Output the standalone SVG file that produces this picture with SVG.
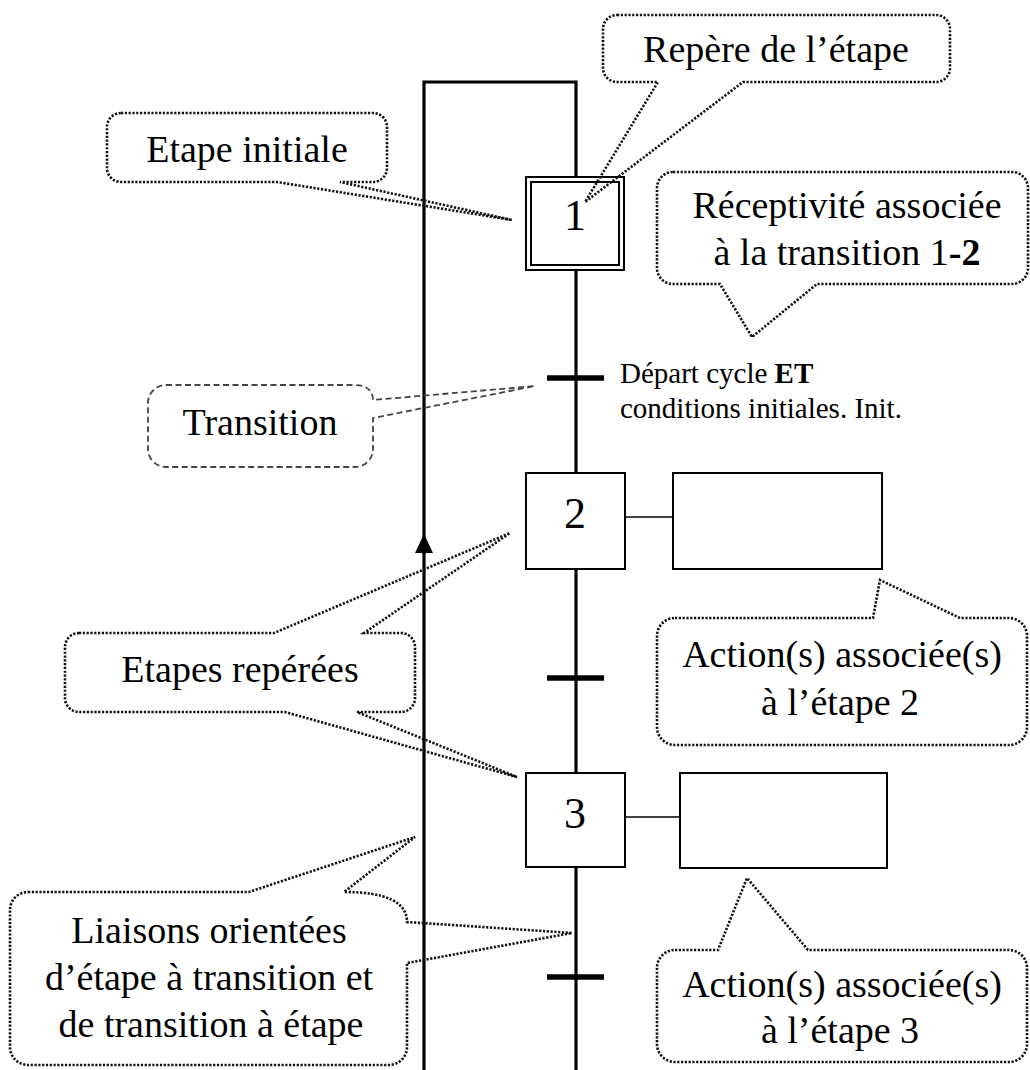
<svg xmlns="http://www.w3.org/2000/svg" width="1030" height="1070" viewBox="0 0 1030 1070">
<style>
.bg{fill:#fff}
.wire{stroke:#000;stroke-width:3.2;fill:none}
.tick{stroke:#000;stroke-width:5.5}
.box{fill:#fff;stroke:#000;stroke-width:2}
.link{stroke:#000;stroke-width:1.6}
.call{fill:none;stroke:#111;stroke-width:2.6;stroke-dasharray:2.2 1.6}
.dash{fill:none;stroke:#444;stroke-width:1.8;stroke-dasharray:6 3.5}
.lbl{font-family:"Liberation Serif","Times New Roman",serif;font-size:38px;fill:#000;text-anchor:middle}
.num{font-family:"Liberation Serif","Times New Roman",serif;font-size:44px;fill:#000;text-anchor:middle}
.small{font-family:"Liberation Serif","Times New Roman",serif;font-size:29px;fill:#000}
</style>
<rect class="bg" x="0" y="0" width="1030" height="1070"/>

<g id="connectors">
  <path class="wire" d="M424,1070 V82 H576 V177"/>
  <path d="M415,553 L424,534 L433,553 Z" fill="#000"/>
  <line class="wire" x1="576" y1="270" x2="576" y2="473"/>
  <line class="wire" x1="576" y1="569" x2="576" y2="773"/>
  <line class="wire" x1="576" y1="867" x2="576" y2="1070"/>
  <line class="tick" x1="547" y1="378" x2="604" y2="378"/>
  <line class="tick" x1="547" y1="678" x2="604" y2="678"/>
  <line class="tick" x1="547" y1="977" x2="604" y2="977"/>
  <line class="link" x1="625" y1="517" x2="673" y2="517"/>
  <line class="link" x1="625" y1="817" x2="680" y2="817"/>
</g>

<g id="step1">
  <rect class="box" x="526" y="177" width="98" height="93"/>
  <rect class="box" x="531" y="182" width="88" height="83"/>
  <text class="num" x="575" y="230">1</text>
</g>
<g id="step2">
  <rect class="box" x="526" y="473" width="99" height="96"/>
  <text class="num" x="575" y="528">2</text>
</g>
<g id="step3">
  <rect class="box" x="526" y="773" width="99" height="94"/>
  <text class="num" x="575" y="828">3</text>
</g>
<g id="action2">
  <rect class="box" x="673" y="473" width="209" height="96"/>
</g>
<g id="action3">
  <rect class="box" x="680" y="773" width="207" height="95"/>
</g>

<g id="receptivity-text">
  <text class="small" x="620" y="383">Départ cycle <tspan font-weight="bold">ET</tspan></text>
  <text class="small" x="620" y="418">conditions initiales. Init.</text>
</g>

<g id="callout-etape-initiale">
  <path class="call" d="M121,113 H373 A14,14 0 0 1 387,127 V168 A14,14 0 0 1 373,182 H340 L512,220 L277,182 H121 A14,14 0 0 1 107,168 V127 A14,14 0 0 1 121,113 Z"/>
  <text class="lbl" x="247" y="162">Etape initiale</text>
</g>
<g id="callout-repere">
  <path class="call" d="M617,15 H936 A14,14 0 0 1 950,29 V68 A14,14 0 0 1 936,82 H743 L585,202 L658,82 H617 A14,14 0 0 1 603,68 V29 A14,14 0 0 1 617,15 Z"/>
  <text class="lbl" x="776" y="62">Repère de l’étape</text>
</g>
<g id="callout-receptivite">
  <path class="call" d="M673,172 H1012 A16,16 0 0 1 1028,188 V268 A16,16 0 0 1 1012,284 H817 L752,337 L720,284 H673 A16,16 0 0 1 657,268 V188 A16,16 0 0 1 673,172 Z"/>
  <text class="lbl" x="847" y="218">Réceptivité associée</text>
  <text class="lbl" x="847" y="265">à la transition 1<tspan font-weight="bold">-2</tspan></text>
</g>
<g id="callout-transition">
  <path class="dash" d="M166,385 H353 Q373,385 373,400 L535,386 L373,418 V449 A18,18 0 0 1 355,467 H166 A18,18 0 0 1 148,449 V403 A18,18 0 0 1 166,385 Z"/>
  <text class="lbl" x="260" y="435">Transition</text>
</g>
<g id="callout-etapes-reperees">
  <path class="call" d="M79,633 H274 L510,533 L364,633 H401 A14,14 0 0 1 415,647 V698 A14,14 0 0 1 401,712 H357 L517,777 L285,712 H79 A14,14 0 0 1 65,698 V647 A14,14 0 0 1 79,633 Z"/>
  <text class="lbl" x="240" y="682">Etapes repérées</text>
</g>
<g id="callout-action2">
  <path class="call" d="M675,618 H873 L880,580 L960,618 H1009 A18,18 0 0 1 1027,636 V727 A18,18 0 0 1 1009,745 H675 A18,18 0 0 1 657,727 V636 A18,18 0 0 1 675,618 Z"/>
  <text class="lbl" x="842" y="667">Action(s) associée(s)</text>
  <text class="lbl" x="840" y="715">à l’étape 2</text>
</g>
<g id="callout-action3">
  <path class="call" d="M675,950 H718 L747,878 L808,950 H1009 A18,18 0 0 1 1027,968 V1044 A18,18 0 0 1 1009,1062 H675 A18,18 0 0 1 657,1044 V968 A18,18 0 0 1 675,950 Z"/>
  <text class="lbl" x="842" y="997">Action(s) associée(s)</text>
  <text class="lbl" x="840" y="1043">à l’étape 3</text>
</g>
<g id="callout-liaisons">
  <path class="call" d="M28,892 H249 L415,837 L344,892 Q407,892 407,922 L572,933 L407,963 V1047 A18,18 0 0 1 389,1065 H28 A18,18 0 0 1 10,1047 V910 A18,18 0 0 1 28,892 Z"/>
  <text class="lbl" x="209" y="943">Liaisons orientées</text>
  <text class="lbl" x="209" y="990">d’étape à transition et</text>
  <text class="lbl" x="211" y="1037">de transition à étape</text>
</g>
</svg>
